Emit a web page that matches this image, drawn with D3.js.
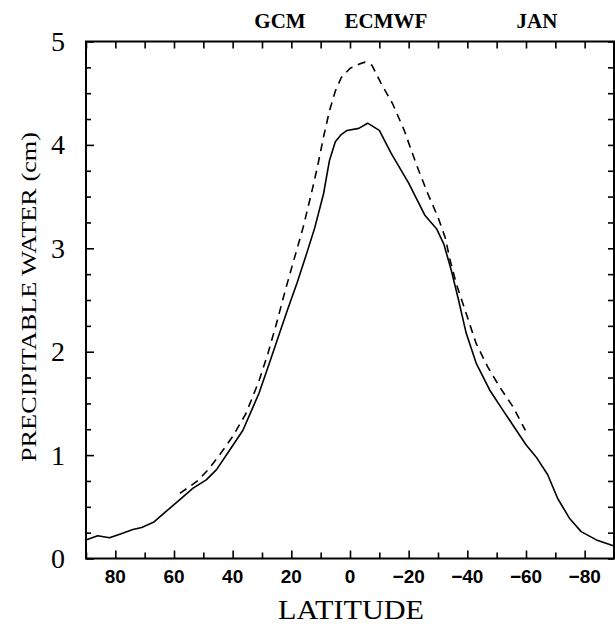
<!DOCTYPE html>
<html>
<head>
<meta charset="utf-8">
<script src="https://cdn.jsdelivr.net/npm/d3@7/dist/d3.min.js"></script>
<style>
  html, body { margin: 0; padding: 0; background: #fff; }
  svg { display: block; }
</style>
</head>
<body>
<svg id="chart" width="615" height="629"></svg>
<script>
// ---- data (latitude in degrees, precipitable water in cm) ----
const gcmLat = [90, 86, 82, 78, 74, 71, 67, 62.5, 58, 53.5, 49, 45.5, 41, 36.5, 31, 27, 24, 21, 18, 15, 12, 9, 7, 5, 3, 1, -3, -6, -10, -14, -20, -25.5, -29.5, -32, -34.5, -37, -39.6, -43, -47.6, -52, -56.7, -60, -63.5, -67.4, -70.8, -74.8, -78.8, -84, -90];
const gcmVal = [0.18, 0.22, 0.20, 0.24, 0.28, 0.30, 0.35, 0.46, 0.57, 0.68, 0.76, 0.86, 1.05, 1.24, 1.60, 1.93, 2.18, 2.43, 2.67, 2.93, 3.20, 3.53, 3.85, 4.03, 4.10, 4.14, 4.16, 4.21, 4.14, 3.92, 3.63, 3.32, 3.19, 3.04, 2.79, 2.50, 2.18, 1.89, 1.63, 1.44, 1.24, 1.10, 0.98, 0.81, 0.58, 0.39, 0.26, 0.18, 0.12];

const ecmwfLat = [58, 52, 48, 44, 40, 35.5, 31, 28, 25, 22, 19, 16, 13, 11, 9, 7, 5, 3, 0, -3, -5, -7.5, -10.5, -14.5, -18.5, -22.5, -26.5, -30, -32.5, -34, -36.2, -39.6, -43, -47, -51, -55.5, -59.8];
const ecmwfVal = [0.63, 0.75, 0.87, 1.02, 1.18, 1.40, 1.72, 1.98, 2.28, 2.60, 2.90, 3.20, 3.55, 3.80, 4.08, 4.33, 4.52, 4.65, 4.74, 4.78, 4.80, 4.77, 4.60, 4.40, 4.14, 3.82, 3.53, 3.30, 3.10, 2.90, 2.66, 2.37, 2.08, 1.85, 1.66, 1.47, 1.24];

const xMajorTicks = [80, 60, 40, 20, 0, -20, -40, -60, -80];
const xMajorLabels = ["80", "60", "40", "20", "0", "\u221220", "\u221240", "\u221260", "\u221280"];
const xMinorTicks = [90, 70, 50, 30, 10, -10, -30, -50, -70, -90];
const yMajorTicks = [0, 1, 2, 3, 4, 5];
const yMajorLabels = ["0", "1", "2", "3", "4", "5"];
const yMinorTicks = [0.25, 0.5, 0.75, 1.25, 1.5, 1.75, 2.25, 2.5, 2.75, 3.25, 3.5, 3.75, 4.25, 4.5, 4.75];
const titles = ["GCM", "ECMWF", "JAN"];
const titleCenters = [280, 386, 537];
const xTitle = "LATITUDE";
const yTitle = "PRECIPITABLE WATER (cm)";

// ---- layout ----
const L = 86, R = 614, T = 41.5, B = 558.5;
const svg = d3.select("#chart");
const x = d3.scaleLinear().domain([90, -90]).range([L, R]);
const y = d3.scaleLinear().domain([0, 5]).range([B, T]);

const serif = "'Liberation Serif', 'Times New Roman', serif";
const sans = "'Liberation Sans', Arial, sans-serif";

function tickAxis(axis, tr) {
  const g = svg.append("g").attr("transform", tr).call(axis);
  g.select(".domain").remove();
  g.selectAll(".tick line").attr("stroke", "#000").attr("stroke-width", 1.6);
  g.selectAll(".tick text").remove();
  return g;
}

// bottom ticks (inward)
tickAxis(d3.axisBottom(x).tickValues(xMajorTicks).tickSize(-8).tickFormat(""), `translate(0,${B})`);
tickAxis(d3.axisBottom(x).tickValues(xMinorTicks).tickSize(-6).tickFormat(""), `translate(0,${B})`);
// top ticks (inward)
tickAxis(d3.axisTop(x).tickValues(xMajorTicks.concat(xMinorTicks)).tickSize(-7).tickFormat(""), `translate(0,${T})`);
// left ticks
tickAxis(d3.axisLeft(y).tickValues(yMajorTicks).tickSize(-8).tickFormat(""), `translate(${L},0)`);
tickAxis(d3.axisLeft(y).tickValues(yMinorTicks).tickSize(-5).tickFormat(""), `translate(${L},0)`);
// right ticks
tickAxis(d3.axisRight(y).tickValues(yMajorTicks.concat(yMinorTicks)).tickSize(-6).tickFormat(""), `translate(${R},0)`);

// frame
svg.append("rect")
  .attr("x", L).attr("y", T).attr("width", R - L).attr("height", B - T)
  .attr("fill", "none").attr("stroke", "#000").attr("stroke-width", 2);

// lines
const line = d3.line().x(d => x(d[0])).y(d => y(d[1])).curve(d3.curveLinear);
const gcm = gcmLat.map((d, i) => [d, gcmVal[i]]);
const ecm = ecmwfLat.map((d, i) => [d, ecmwfVal[i]]);

svg.append("path").datum(ecm).attr("d", line)
  .attr("fill", "none").attr("stroke", "#000").attr("stroke-width", 1.6)
  .attr("stroke-dasharray", "8,6");
svg.append("path").datum(gcm).attr("d", line)
  .attr("fill", "none").attr("stroke", "#000").attr("stroke-width", 1.6)
  .attr("stroke-linejoin", "round");

// x tick labels
svg.append("g").selectAll("text").data(xMajorTicks).join("text")
  .attr("x", d => x(d)).attr("y", 583)
  .attr("text-anchor", "middle")
  .attr("font-family", sans).attr("font-weight", "bold").attr("font-size", 19)
  .text((d, i) => xMajorLabels[i]);

// y tick labels
svg.append("g").selectAll("text").data(yMajorTicks).join("text")
  .attr("x", 58).attr("y", d => y(d) + 9.5)
  .attr("text-anchor", "middle")
  .attr("font-family", serif).attr("font-size", 28)
  .text((d, i) => yMajorLabels[i]);

// titles
svg.append("g").selectAll("text").data(titles).join("text")
  .attr("x", (d, i) => titleCenters[i]).attr("y", 28)
  .attr("text-anchor", "middle")
  .attr("font-family", serif).attr("font-weight", "bold").attr("font-size", 21)
  .text(d => d);

// axis titles
svg.append("text")
  .attr("x", 351).attr("y", 619)
  .attr("text-anchor", "middle")
  .attr("font-family", serif).attr("font-size", 27)
  .attr("textLength", 146).attr("lengthAdjust", "spacingAndGlyphs")
  .text(xTitle);

svg.append("text")
  .attr("transform", "translate(36,297) rotate(-90)")
  .attr("text-anchor", "middle")
  .attr("font-family", serif).attr("font-size", 20)
  .attr("textLength", 330).attr("lengthAdjust", "spacingAndGlyphs")
  .text(yTitle);
</script>
</body>
</html>
